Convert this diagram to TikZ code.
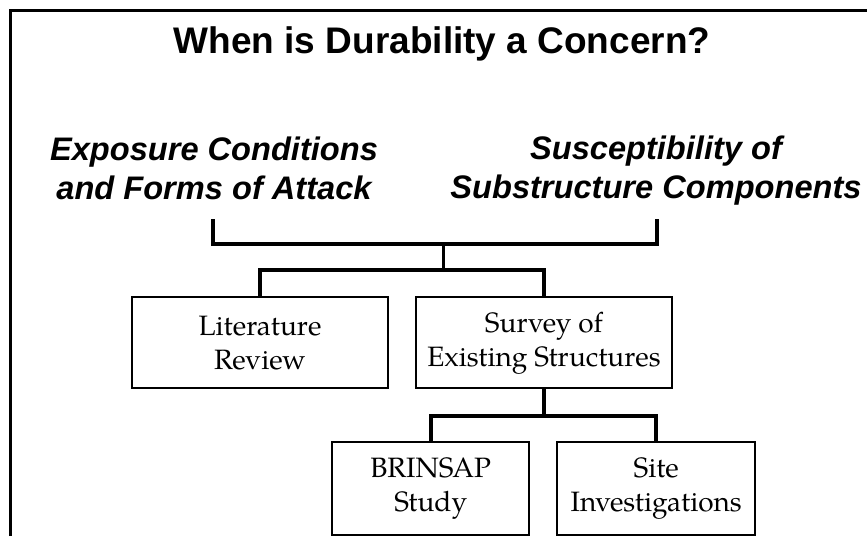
\documentclass[tikz,border=0pt]{standalone}
\usepackage{fontspec}
\newfontfamily\hdfont{Liberation Sans}
\newfontfamily\boxfont{TeX Gyre Pagella}
\begin{document}
\begin{tikzpicture}[x=1pt,y=-1pt,
  titlestyle/.style={font=\hdfont\bfseries\fontsize{37}{44}\selectfont, inner sep=0pt, anchor=base},
  headstyle/.style={font=\hdfont\bfseries\itshape\fontsize{32.6}{39}\selectfont, align=center, inner sep=0pt},
  boxstyle/.style={draw, line width=2pt, font=\boxfont\fontsize{28}{34}\selectfont, align=center, inner sep=0pt},
  conn/.style={line width=3.8pt, line join=miter}
]
\useasboundingbox (0,0) rectangle (867,536);
\fill[white] (0,0) rectangle (867,536);
% frame
\draw[line width=3pt, line join=miter] (10.5,536) -- (10.5,10) -- (867,10);
% title
\node[titlestyle] (title) at (442,53) {When is Durability a Concern?};
% headings
\node[headstyle] (expo) at (214,168) {Exposure Conditions\\and Forms of Attack};
\node[headstyle] (susc) at (656,171) {Susceptibility of\\Substructure Components};
% boxes
\node[boxstyle, minimum width=256pt, minimum height=91pt] (lit) at (260,342.6) {Literature\\Review};
\node[boxstyle, minimum width=256.6pt, minimum height=91pt] (sur) at (544,342.8) {Survey of\\Existing Structures};
\node[boxstyle, minimum width=196.7pt, minimum height=93pt] (bri) at (430.7,488.6) {BRINSAP\\Study};
\node[boxstyle, minimum width=197.7pt, minimum height=93pt] (site) at (656.2,488.6) {Site\\Investigations};
% connectors
\coordinate (bl) at (213,219);
\coordinate (br) at (657,219);
\coordinate (jm) at (443.5,244);
\draw[conn] (bl) -- (213,244) -- (657,244) -- (br);
\draw[conn] (jm) -- ++(0,26) coordinate (j2);
\draw[conn] (lit.north) |- (j2);
\draw[conn] (sur.north) |- (j2);
\draw[conn] (sur.south) -- ++(0,27) coordinate (j3);
\draw[conn] (bri.north) |- (j3);
\draw[conn] (site.north) |- (j3);
\end{tikzpicture}
\end{document}
